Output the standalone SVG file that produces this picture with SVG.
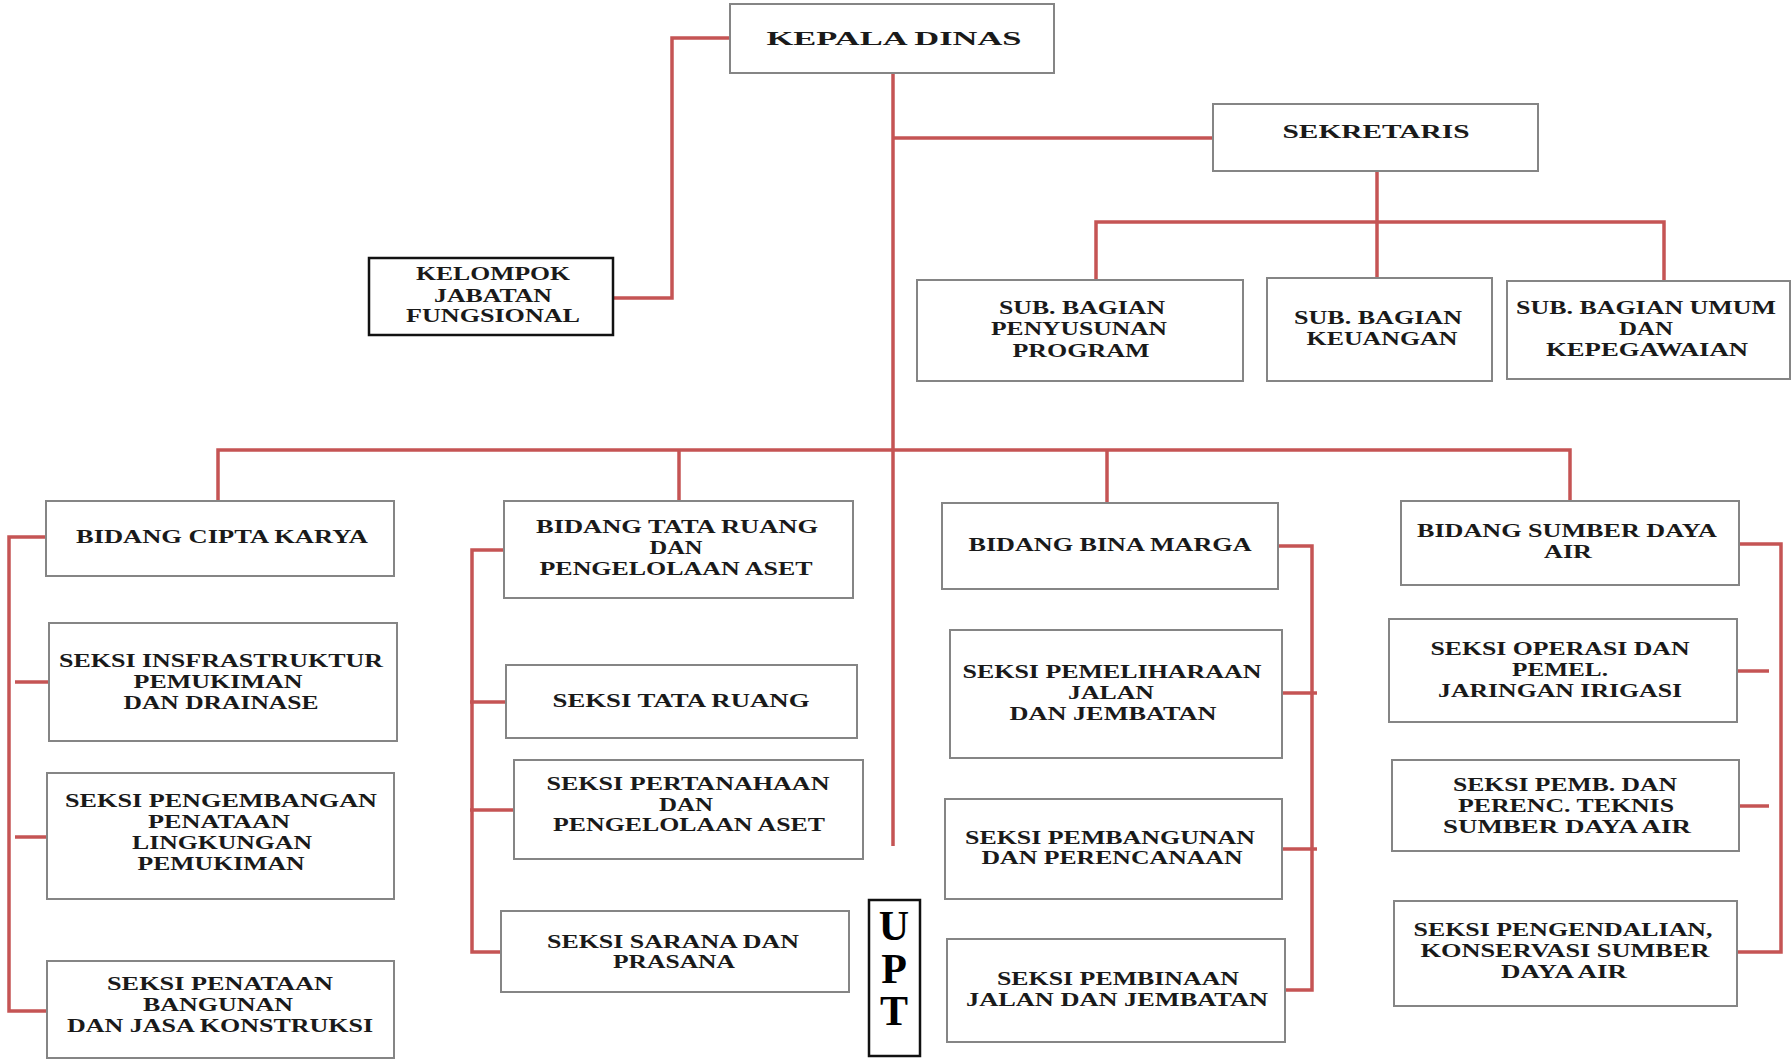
<svg xmlns="http://www.w3.org/2000/svg" width="1792" height="1061" viewBox="0 0 1792 1061">
<style>
.bx{fill:#ffffff;stroke:#858585;stroke-width:2}
.bk{fill:#ffffff;stroke:#111111;stroke-width:2.5}
.t{font-family:"Liberation Serif","Times New Roman",serif;font-weight:bold;font-size:18px;fill:#1a1a1a;text-anchor:middle}
.u{font-family:"Liberation Serif","Times New Roman",serif;font-weight:bold;font-size:42px;fill:#000000;text-anchor:middle}
.c{fill:none;stroke:#c55454;stroke-width:3.5;stroke-linecap:butt;stroke-linejoin:miter}
</style>
<rect width="1792" height="1061" fill="#ffffff"/>
<g id="connectors">
<path class="c" d="M730,38 H672 V298 H613"/>
<path class="c" d="M893,73 V846"/>
<path class="c" d="M893,138 H1213"/>
<path class="c" d="M1377,172 V278"/>
<path class="c" d="M1096,279 V222 H1664 V280"/>
<path class="c" d="M218,501 V450 H1570 V501"/>
<path class="c" d="M679,450 V501"/>
<path class="c" d="M1107,450 V503"/>
<path class="c" d="M46,537 H9 V1011 H47"/>
<path class="c" d="M15,682 H49"/>
<path class="c" d="M15,837 H47"/>
<path class="c" d="M504,550 H472 V952 H501"/>
<path class="c" d="M470,702 H506"/>
<path class="c" d="M470,810 H514"/>
<path class="c" d="M1278,546 H1312 V990 H1285"/>
<path class="c" d="M1282,693 H1317"/>
<path class="c" d="M1282,849 H1317"/>
<path class="c" d="M1739,544 H1781 V952 H1737"/>
<path class="c" d="M1737,671 H1769"/>
<path class="c" d="M1739,806 H1769"/>
</g>
<g id="kepala-dinas">
<rect class="bx" x="730" y="4" width="324" height="69"/>
<text class="t" x="894" y="45" font-size="25" textLength="255" lengthAdjust="spacingAndGlyphs">KEPALA DINAS</text>
</g>
<g id="kelompok">
<rect class="bk" x="369" y="258" width="244" height="77"/>
<text class="t" x="493" y="280" textLength="154" lengthAdjust="spacingAndGlyphs">KELOMPOK</text>
<text class="t" x="493" y="302" textLength="118" lengthAdjust="spacingAndGlyphs">JABATAN</text>
<text class="t" x="493" y="322" textLength="174" lengthAdjust="spacingAndGlyphs">FUNGSIONAL</text>
</g>
<g id="sekretaris">
<rect class="bx" x="1213" y="104" width="325" height="67"/>
<text class="t" x="1376" y="138" font-size="19" textLength="187" lengthAdjust="spacingAndGlyphs">SEKRETARIS</text>
</g>
<g id="sub-penyusunan">
<rect class="bx" x="917" y="280" width="326" height="101"/>
<text class="t" x="1082" y="314" textLength="166" lengthAdjust="spacingAndGlyphs">SUB. BAGIAN</text>
<text class="t" x="1079" y="335" textLength="176" lengthAdjust="spacingAndGlyphs">PENYUSUNAN</text>
<text class="t" x="1081" y="357" textLength="137" lengthAdjust="spacingAndGlyphs">PROGRAM</text>
</g>
<g id="sub-keuangan">
<rect class="bx" x="1267" y="278" width="225" height="103"/>
<text class="t" x="1378" y="324" textLength="168" lengthAdjust="spacingAndGlyphs">SUB. BAGIAN</text>
<text class="t" x="1382" y="345" textLength="151" lengthAdjust="spacingAndGlyphs">KEUANGAN</text>
</g>
<g id="sub-umum">
<rect class="bx" x="1507" y="281" width="283" height="98"/>
<text class="t" x="1646" y="314" textLength="260" lengthAdjust="spacingAndGlyphs">SUB. BAGIAN UMUM</text>
<text class="t" x="1646" y="335" textLength="54" lengthAdjust="spacingAndGlyphs">DAN</text>
<text class="t" x="1647" y="356" textLength="202" lengthAdjust="spacingAndGlyphs">KEPEGAWAIAN</text>
</g>
<g id="bidang-cipta-karya">
<rect class="bx" x="46" y="501" width="348" height="75"/>
<text class="t" x="222" y="543" textLength="292" lengthAdjust="spacingAndGlyphs">BIDANG CIPTA KARYA</text>
</g>
<g id="seksi-infrastruktur">
<rect class="bx" x="49" y="623" width="348" height="118"/>
<text class="t" x="221" y="667" textLength="324" lengthAdjust="spacingAndGlyphs">SEKSI INSFRASTRUKTUR</text>
<text class="t" x="218" y="688" textLength="169" lengthAdjust="spacingAndGlyphs">PEMUKIMAN</text>
<text class="t" x="221" y="709" textLength="195" lengthAdjust="spacingAndGlyphs">DAN DRAINASE</text>
</g>
<g id="seksi-pengembangan">
<rect class="bx" x="47" y="773" width="347" height="126"/>
<text class="t" x="221" y="807" textLength="312" lengthAdjust="spacingAndGlyphs">SEKSI PENGEMBANGAN</text>
<text class="t" x="219" y="828" textLength="142" lengthAdjust="spacingAndGlyphs">PENATAAN</text>
<text class="t" x="222" y="849" textLength="180" lengthAdjust="spacingAndGlyphs">LINGKUNGAN</text>
<text class="t" x="221" y="870" textLength="167" lengthAdjust="spacingAndGlyphs">PEMUKIMAN</text>
</g>
<g id="seksi-penataan-bangunan">
<rect class="bx" x="47" y="961" width="347" height="97"/>
<text class="t" x="220" y="990" textLength="226" lengthAdjust="spacingAndGlyphs">SEKSI PENATAAN</text>
<text class="t" x="218" y="1011" textLength="150" lengthAdjust="spacingAndGlyphs">BANGUNAN</text>
<text class="t" x="220" y="1032" textLength="306" lengthAdjust="spacingAndGlyphs">DAN JASA KONSTRUKSI</text>
</g>
<g id="bidang-tata-ruang">
<rect class="bx" x="504" y="501" width="349" height="97"/>
<text class="t" x="677" y="533" textLength="282" lengthAdjust="spacingAndGlyphs">BIDANG TATA RUANG</text>
<text class="t" x="676" y="554" textLength="53" lengthAdjust="spacingAndGlyphs">DAN</text>
<text class="t" x="676" y="575" textLength="273" lengthAdjust="spacingAndGlyphs">PENGELOLAAN ASET</text>
</g>
<g id="seksi-tata-ruang">
<rect class="bx" x="506" y="665" width="351" height="73"/>
<text class="t" x="681" y="707" textLength="257" lengthAdjust="spacingAndGlyphs">SEKSI TATA RUANG</text>
</g>
<g id="seksi-pertanahaan">
<rect class="bx" x="514" y="760" width="349" height="99"/>
<text class="t" x="688" y="790" textLength="283" lengthAdjust="spacingAndGlyphs">SEKSI PERTANAHAAN</text>
<text class="t" x="686" y="811" textLength="54" lengthAdjust="spacingAndGlyphs">DAN</text>
<text class="t" x="689" y="831" textLength="272" lengthAdjust="spacingAndGlyphs">PENGELOLAAN ASET</text>
</g>
<g id="seksi-sarana">
<rect class="bx" x="501" y="911" width="348" height="81"/>
<text class="t" x="673" y="948" textLength="252" lengthAdjust="spacingAndGlyphs">SEKSI SARANA DAN</text>
<text class="t" x="674" y="968" textLength="122" lengthAdjust="spacingAndGlyphs">PRASANA</text>
</g>
<g id="upt">
<rect class="bk" x="869" y="900" width="51" height="156"/>
<text class="u"><tspan x="894" y="940">U</tspan><tspan x="894" y="983">P</tspan><tspan x="894" y="1025">T</tspan></text>
</g>
<g id="bidang-bina-marga">
<rect class="bx" x="942" y="503" width="336" height="86"/>
<text class="t" x="1110" y="551" textLength="283" lengthAdjust="spacingAndGlyphs">BIDANG BINA MARGA</text>
</g>
<g id="seksi-pemeliharaan">
<rect class="bx" x="950" y="630" width="332" height="128"/>
<text class="t" x="1112" y="678" textLength="299" lengthAdjust="spacingAndGlyphs">SEKSI PEMELIHARAAN</text>
<text class="t" x="1111" y="699" textLength="86" lengthAdjust="spacingAndGlyphs">JALAN</text>
<text class="t" x="1113" y="720" textLength="207" lengthAdjust="spacingAndGlyphs">DAN JEMBATAN</text>
</g>
<g id="seksi-pembangunan">
<rect class="bx" x="945" y="799" width="337" height="100"/>
<text class="t" x="1110" y="844" textLength="290" lengthAdjust="spacingAndGlyphs">SEKSI PEMBANGUNAN</text>
<text class="t" x="1112" y="864" textLength="261" lengthAdjust="spacingAndGlyphs">DAN PERENCANAAN</text>
</g>
<g id="seksi-pembinaan">
<rect class="bx" x="947" y="939" width="338" height="103"/>
<text class="t" x="1118" y="985" textLength="242" lengthAdjust="spacingAndGlyphs">SEKSI PEMBINAAN</text>
<text class="t" x="1117" y="1006" textLength="302" lengthAdjust="spacingAndGlyphs">JALAN DAN JEMBATAN</text>
</g>
<g id="bidang-sda">
<rect class="bx" x="1401" y="501" width="338" height="84"/>
<text class="t" x="1567" y="537" textLength="300" lengthAdjust="spacingAndGlyphs">BIDANG SUMBER DAYA</text>
<text class="t" x="1568" y="558" textLength="48" lengthAdjust="spacingAndGlyphs">AIR</text>
</g>
<g id="seksi-operasi">
<rect class="bx" x="1389" y="619" width="348" height="103"/>
<text class="t" x="1560" y="655" textLength="259" lengthAdjust="spacingAndGlyphs">SEKSI OPERASI DAN</text>
<text class="t" x="1560" y="676" textLength="96" lengthAdjust="spacingAndGlyphs">PEMEL.</text>
<text class="t" x="1560" y="697" textLength="244" lengthAdjust="spacingAndGlyphs">JARINGAN IRIGASI</text>
</g>
<g id="seksi-pemb-perenc">
<rect class="bx" x="1392" y="760" width="347" height="91"/>
<text class="t" x="1565" y="791" textLength="224" lengthAdjust="spacingAndGlyphs">SEKSI PEMB. DAN</text>
<text class="t" x="1566" y="812" textLength="216" lengthAdjust="spacingAndGlyphs">PERENC. TEKNIS</text>
<text class="t" x="1567" y="833" textLength="248" lengthAdjust="spacingAndGlyphs">SUMBER DAYA AIR</text>
</g>
<g id="seksi-pengendalian">
<rect class="bx" x="1394" y="901" width="343" height="105"/>
<text class="t" x="1563" y="936" textLength="299" lengthAdjust="spacingAndGlyphs">SEKSI PENGENDALIAN,</text>
<text class="t" x="1565" y="957" textLength="289" lengthAdjust="spacingAndGlyphs">KONSERVASI SUMBER</text>
<text class="t" x="1564" y="978" textLength="126" lengthAdjust="spacingAndGlyphs">DAYA AIR</text>
</g>
</svg>
